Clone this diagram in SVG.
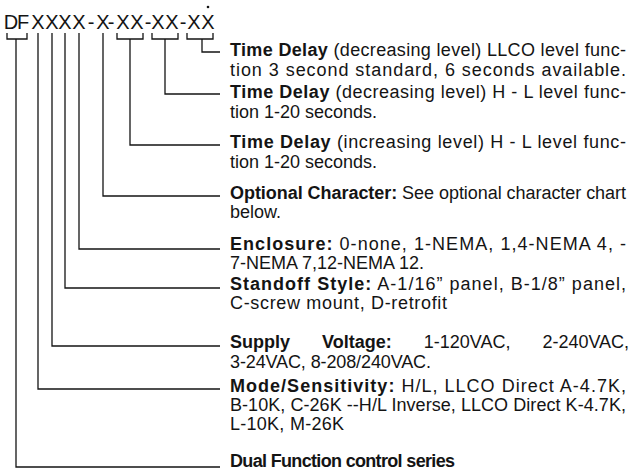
<svg xmlns="http://www.w3.org/2000/svg" width="630" height="470" viewBox="0 0 630 470">
<style>
.ln{fill:none;stroke:#141414;stroke-width:1.3}
.t{font-family:"Liberation Sans",Arial,sans-serif;font-size:18px;fill:#141414}
.b{font-weight:bold}
.code{font-family:"Liberation Sans",Arial,sans-serif;font-size:20px;fill:#141414}
</style>
<rect width="630" height="470" fill="#fff"/>
<g id="code">
<text class="code" text-anchor="middle" y="29" x="11 23 38 52 65 79 91 103 111 123 137 148 158 172 183 194 208">DFXXXX-X-XX-XX-XX</text>
<circle cx="208" cy="7" r="1.3" fill="#141414"/>
</g>
<g id="connectors" class="ln">
<path d="M7,33 V39 H27 V33 M16,39 V467 H220"/>
<path d="M38,33 V389 H220"/>
<path d="M52,33 V346 H220"/>
<path d="M65,33 V288 H220"/>
<path d="M79,33 V249 H220"/>
<path d="M103,33 V196 H220"/>
<path d="M117,33 V39 H143 V33 M130,39 V145 H220"/>
<path d="M152,33 V39 H178 V33 M165,39 V94 H220"/>
<path d="M187,33 V39 H213 V33 M202,39 V52 H220"/>
</g>
<g id="n-llco">
<text class="t" x="230" y="56" textLength="396" lengthAdjust="spacing"><tspan class="b">Time Delay</tspan> (decreasing level) LLCO level func-</text>
<text class="t" x="230" y="76" textLength="396" lengthAdjust="spacing">tion 3 second standard, 6 seconds available.</text>
</g>
<g id="n-tdd">
<text class="t" x="230" y="98" textLength="396" lengthAdjust="spacing"><tspan class="b">Time Delay</tspan> (decreasing level) H - L level func-</text>
<text class="t" x="230" y="118">tion 1-20 seconds.</text>
</g>
<g id="n-tdi">
<text class="t" x="230" y="148" textLength="396" lengthAdjust="spacing"><tspan class="b">Time Delay</tspan> (increasing level) H - L level func-</text>
<text class="t" x="230" y="168">tion 1-20 seconds.</text>
</g>
<g id="n-opt">
<text class="t" x="230" y="199" textLength="396" lengthAdjust="spacing"><tspan class="b">Optional Character:</tspan> See optional character chart</text>
<text class="t" x="230" y="218">below.</text>
</g>
<g id="n-enc">
<text class="t" x="230" y="250" textLength="396" lengthAdjust="spacing"><tspan class="b">Enclosure:</tspan>  0-none, 1-NEMA, 1,4-NEMA 4, -</text>
<text class="t" x="230" y="269">7-NEMA 7,12-NEMA 12.</text>
</g>
<g id="n-std">
<text class="t" x="230" y="290" textLength="396" lengthAdjust="spacing"><tspan class="b">Standoff Style:</tspan> A-1/16” panel, B-1/8” panel,</text>
<text class="t" x="230" y="309" textLength="217" lengthAdjust="spacing">C-screw mount, D-retrofit</text>
</g>
<g id="n-sup">
<text class="t" x="230" y="348" word-spacing="27"><tspan class="b">Supply Voltage:</tspan> 1-120VAC, 2-240VAC,</text>
<text class="t" x="230" y="368" textLength="201" lengthAdjust="spacing">3-24VAC, 8-208/240VAC.</text>
</g>
<g id="n-mode">
<text class="t" x="230" y="392" textLength="396" lengthAdjust="spacing"><tspan class="b">Mode/Sensitivity:</tspan> H/L, LLCO Direct A-4.7K,</text>
<text class="t" x="230" y="411" textLength="396" lengthAdjust="spacing">B-10K, C-26K --H/L Inverse, LLCO Direct K-4.7K,</text>
<text class="t" x="230" y="430" textLength="114" lengthAdjust="spacing">L-10K, M-26K</text>
</g>
<g id="n-dual">
<text class="t b" x="230" y="467" textLength="225" lengthAdjust="spacing">Dual Function control series</text>
</g>
</svg>
